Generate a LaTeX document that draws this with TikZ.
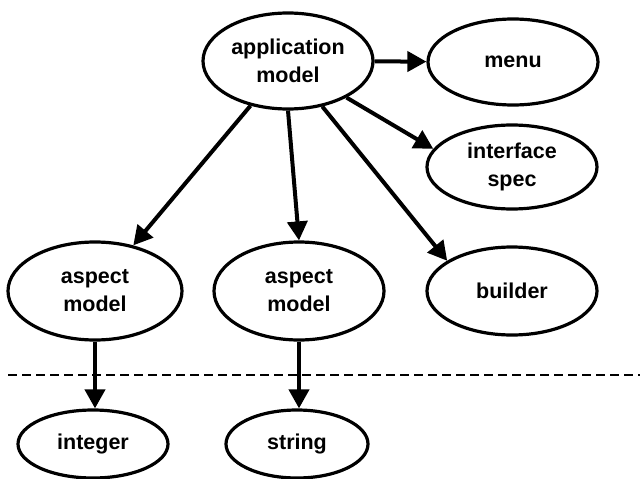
\documentclass[tikz,border=0pt]{standalone}
\usepackage{fontspec}
\setmainfont{Liberation Sans}
\usetikzlibrary{shapes.geometric,arrows.meta}
\begin{document}
\begin{tikzpicture}[x=1pt,y=-1pt,
  bubble/.style={ellipse,draw,line width=3.2pt,inner sep=0pt,align=center,
    font=\bfseries\fontsize{21.5}{28}\selectfont},
  arr/.style={line width=4pt,-{Triangle[length=19pt,width=20pt]}},
  sep/.style={line width=2.2pt,dash pattern=on 9pt off 5pt}]
\useasboundingbox (0,0) rectangle (640,479);
\node[bubble,minimum width=170pt,minimum height=96pt] (app) at (288,61) {application\\model};
\node[bubble,minimum width=170pt,minimum height=86pt] (menu) at (513,62) {menu};
\node[bubble,minimum width=170pt,minimum height=84pt] (spec) at (512,167) {interface\\spec};
\node[bubble,minimum width=170pt,minimum height=88pt] (bld) at (512,291) {builder};
\node[bubble,minimum width=174pt,minimum height=98pt] (asp1) at (95,291) {aspect\\model};
\node[bubble,minimum width=170pt,minimum height=98pt] (asp2) at (299,291) {aspect\\model};
\node[bubble,minimum width=150pt,minimum height=68pt] (int) at (93,444) {integer};
\node[bubble,minimum width=142pt,minimum height=68pt] (str) at (297,444) {string};
\coordinate (dl) at (8,375);
\coordinate (dr) at (640,375);
\draw[sep] (dl) -- (dr);
\draw[arr] (app) -- (menu);
\draw[arr] (app.-32) -- (spec.167);
\draw[arr] (app) -- (asp1);
\draw[arr] (app.south) -- (asp2.north);
\draw[arr] (app.-53) -- (bld.155);
\draw[arr] (asp1.south) -- (asp1.south |- int.north);
\draw[arr] (asp2.south) -- (asp2.south |- str.north);
\end{tikzpicture}
\end{document}
